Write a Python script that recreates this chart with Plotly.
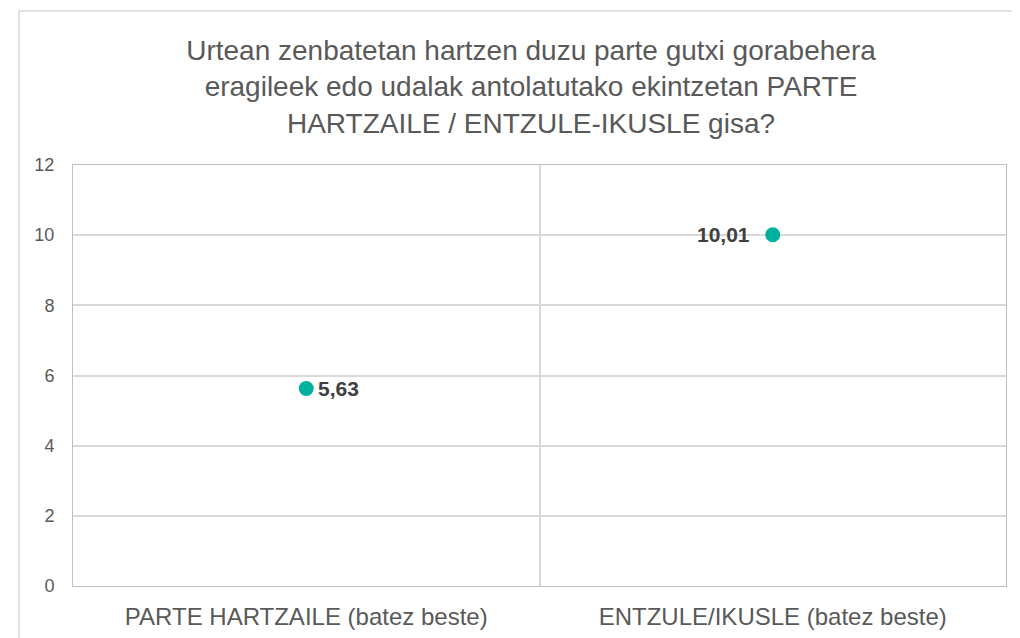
import plotly.graph_objects as go

# datos
categorias = ["PARTE HARTZAILE (batez beste)", "ENTZULE/IKUSLE (batez beste)"]
valores = [5.63, 10.01]
lado_etiqueta = ["right", "left"]
titulo = ("Urtean zenbatetan hartzen duzu parte gutxi gorabehera<br>"
          "eragileek edo udalak antolatutako ekintzetan PARTE<br>"
          "HARTZAILE / ENTZULE-IKUSLE gisa?")

etiquetas = [f"<b>{v:.2f}</b>".replace(".", ",") for v in valores]

fig = go.Figure()
fig.add_trace(go.Scatter(
    x=categorias, y=valores, mode="markers",
    marker=dict(color="#00B09E", size=15),
    showlegend=False, cliponaxis=False,
))

# etiquetas de datos al lado de cada punto
for cat, val, txt, lado in zip(categorias, valores, etiquetas, lado_etiqueta):
    fig.add_annotation(
        x=cat, y=val, text=txt, showarrow=False,
        xanchor="left" if lado == "right" else "right",
        xshift=10 if lado == "right" else -21,
        font=dict(size=21, color="#404040", family="Liberation Sans, Arial"),
    )

# la página tiene 8px de margen en el body
off = 8
L, R, T, B = 73 - off, 1006 - off, 165 - off, 586 - off
w, h = R - L, B - T
fig.add_shape(type="rect", xref="paper", yref="paper",
              x0=(19 - off - L) / w, x1=(1030 - L) / w,
              y0=(B - 650) / h, y1=(B - (11 - off)) / h,
              line=dict(color="#d9d9d9", width=1.5), layer="below")

fig.update_layout(
    width=1020, height=638,
    margin=dict(l=L, r=1020 - R, t=T, b=638 - B),
    paper_bgcolor="white", plot_bgcolor="white",
    font=dict(family="Liberation Sans, Arial", color="#595959"),
    title=dict(text=titulo, x=(531 - off) / 1020, xanchor="center",
               y=1 - 52 / 638, yanchor="top",
               font=dict(size=28, color="#595959")),
    xaxis=dict(type="category", range=[-0.5, 1.5], tickson="boundaries",
               showgrid=True, gridcolor="#d9d9d9", gridwidth=1.5,
               showline=True, linecolor="#bfbfbf", mirror=True,
               automargin=False, ticks="", ticklabelstandoff=9,
               tickfont=dict(size=24, color="#595959")),
    yaxis=dict(range=[0, 12], dtick=2, showgrid=True,
               gridcolor="#d9d9d9", gridwidth=1.5,
               showline=True, linecolor="#bfbfbf", mirror=True,
               automargin=False, zeroline=False, ticks="",
               ticklabelstandoff=14,
               tickfont=dict(size=18, color="#595959")),
)

fig.write_html("out.html")
